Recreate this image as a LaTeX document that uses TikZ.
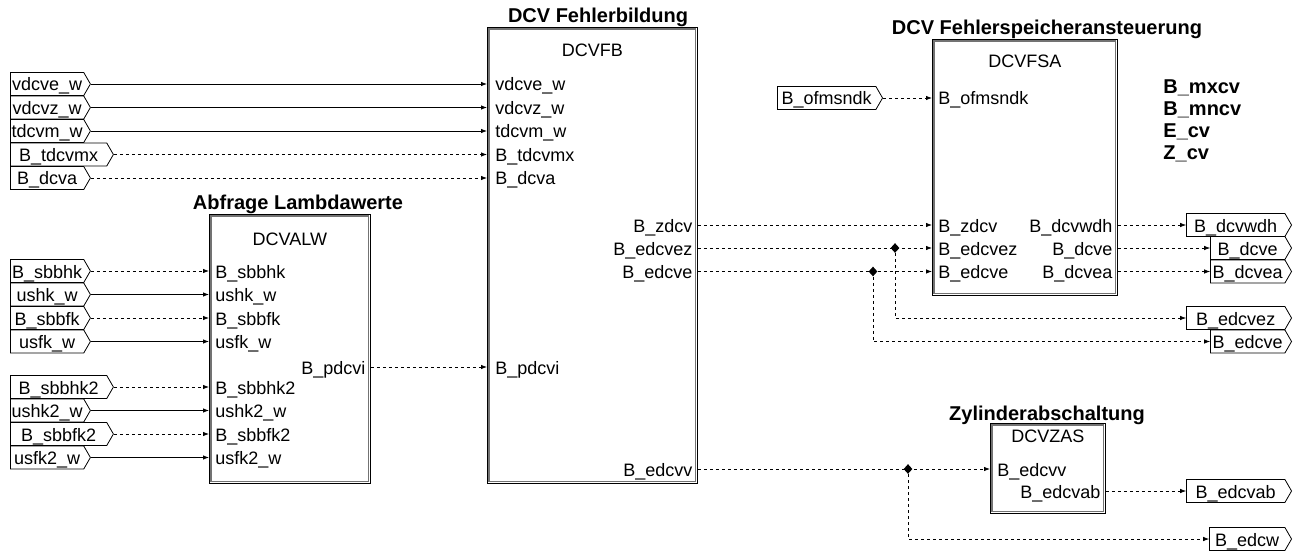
\documentclass[tikz,border=0pt]{standalone}
\usepackage{fontspec}
\setmainfont{Liberation Sans}
\usetikzlibrary{arrows.meta,calc,shapes.symbols,shapes.geometric}
\begin{document}
\begin{tikzpicture}[x=1pt, y=-1pt, >={Latex[length=6pt,width=4.5pt]}, line width=0.8pt, font=\fontsize{18}{20}\selectfont]
\tikzset{
  sig/.style={draw, signal, signal to=east, signal pointer angle=120, minimum height=23pt, inner sep=1pt, text height=15pt, text depth=1pt},
  lbl/.style={inner sep=1pt, text height=15pt, text depth=1pt},
  blk/.style={draw, inner sep=0pt, anchor=north west},
  inframe/.style={draw=black!55, line width=1.5pt},
  ttl/.style={font=\fontsize{20}{22}\selectfont\bfseries},
  dsh/.style={dash pattern=on 3pt off 3pt},
  junc/.style={diamond, fill, inner sep=0pt, minimum width=9pt, minimum height=10pt}
}
\useasboundingbox (0,0) rectangle (1300,556);
\node[blk, minimum width=210, minimum height=456] (fb) at (487,27) {};
\node[blk, minimum width=161, minimum height=269] (alw) at (209,214) {};
\node[blk, minimum width=185, minimum height=256] (fsa) at (932,39) {};
\node[blk, minimum width=115, minimum height=90] (zas) at (990,423) {};
\foreach \b in {fb,alw,fsa,zas} \draw[inframe] ($(\b.north west)+(2.2,2.2)$) rectangle ($(\b.south east)-(2.2,2.2)$);
\node[ttl, anchor=base] (tfb) at (598,23) {DCV Fehlerbildung};
\node[ttl, anchor=base] (talw) at (298,209) {Abfrage Lambdawerte};
\node[ttl, anchor=base] (tfsa) at (1047,35) {DCV Fehlerspeicheransteuerung};
\node[ttl, anchor=base] (tzas) at (1047,420) {Zylinderabschaltung};
\node[anchor=base] (nfb) at (fb.north |- 0,57) {DCVFB};
\node[anchor=base] (nalw) at (alw.north |- 0,245) {DCVALW};
\node[anchor=base] (nfsa) at (fsa.north |- 0,68) {DCVFSA};
\node[anchor=base] (nzas) at (zas.north |- 0,442) {DCVZAS};
\foreach \n/\t/\y/\w/\s in {ivdcve/vdcve\_w/84/80/solid, ivdcvz/vdcvz\_w/107.5/80/solid, itdcvm/tdcvm\_w/131/80/solid, itdcvmx/B\_tdcvmx/154.5/103/dsh, idcva/B\_dcva/178/80/dsh}{
  \node[sig, minimum width=\w, anchor=west] (\n) at (10,\y) {\t};
  \node[lbl, anchor=west] (\n-p) at ($(fb.west |- \n.east)+(7,0)$) {\t};
  \draw[\s, ->] (\n.east) -- (\n.east -| fb.west);
}
\foreach \n/\t/\y/\w/\s in {isbbhk/B\_sbbhk/271/80/dsh, iushk/ushk\_w/294.5/80/solid, isbbfk/B\_sbbfk/318/80/dsh, iusfk/usfk\_w/341.5/80/solid, isbbhkz/B\_sbbhk2/387/103/dsh, iushkz/ushk2\_w/410.5/80/solid, isbbfkz/B\_sbbfk2/434/103/dsh, iusfkz/usfk2\_w/457.5/80/solid}{
  \node[sig, minimum width=\w, anchor=west] (\n) at (10,\y) {\t};
  \node[lbl, anchor=west] (\n-p) at ($(alw.west |- \n.east)+(5,0)$) {\t};
  \draw[\s, ->] (\n.east) -- (\n.east -| alw.west);
}
\node[lbl, anchor=east] (pdcvi-o) at ($(alw.east |- 0,367)+(-4,0)$) {B\_pdcvi};
\node[lbl, anchor=west] (pdcvi-i) at ($(fb.west |- pdcvi-o)+(7,0)$) {B\_pdcvi};
\draw[dsh, ->] (pdcvi-o -| alw.east) -- (pdcvi-o -| fb.west);
\foreach \n/\t/\y in {zdcv/B\_zdcv/225, edcvez/B\_edcvez/248, edcve/B\_edcve/271.5, edcvv/B\_edcvv/469}
  \node[lbl, anchor=east] (\n-o) at ($(fb.east |- 0,\y)+(-4,0)$) {\t};
\foreach \n/\t/\y in {ofmsndk/B\_ofmsndk/98, zdcv/B\_zdcv/225, edcvez/B\_edcvez/248, edcve/B\_edcve/271.5}
  \node[lbl, anchor=west] (\n-i) at ($(fsa.west |- 0,\y)+(5,0)$) {\t};
\node[sig, minimum width=105, anchor=east] (iofmsndk) at (883,98) {B\_ofmsndk};
\draw[dsh, ->] (iofmsndk.east) -- (ofmsndk-i -| fsa.west);
\foreach \n/\t/\y/\w in {dcvwdh/B\_dcvwdh/225/105, dcve/B\_dcve/248/81, dcvea/B\_dcvea/271.5/81}{
  \node[lbl, anchor=east] (\n-o) at ($(fsa.east |- 0,\y)+(-4,0)$) {\t};
  \node[sig, minimum width=\w, anchor=east] (o-\n) at (1292,\y) {\t};
  \draw[dsh, ->] (\n-o -| fsa.east) -- (o-\n.west);
}
\foreach \t [count=\k from 0] in {B\_mxcv,B\_mncv,E\_cv,Z\_cv}
  \node[ttl, anchor=base west, inner sep=0pt] (v\k) at (1163,{94+22*\k}) {\t};
\node[sig, minimum width=105, anchor=east] (o-edcvez) at (1292,318) {B\_edcvez};
\node[sig, minimum width=81, anchor=east] (o-edcve) at (1292,341.5) {B\_edcve};
\node[lbl, anchor=west] (edcvv-i) at ($(zas.west |- 0,469)+(6,0)$) {B\_edcvv};
\node[lbl, anchor=east] (edcvab-o) at ($(zas.east |- 0,491)+(-4,0)$) {B\_edcvab};
\node[sig, minimum width=105, anchor=east] (o-edcvab) at (1292,491) {B\_edcvab};
\node[sig, minimum width=82, anchor=east] (o-edcw) at (1292,539) {B\_edcw};
\node[junc] (jez) at (895,248) {};
\node[junc] (jev) at (873,271.5) {};
\node[junc] (jvv) at (908,469) {};
\draw[dsh, ->] (zdcv-o -| fb.east) -- (zdcv-i -| fsa.west);
\draw[dsh, ->] (edcvez-o -| fb.east) -- (edcvez-i -| fsa.west);
\draw[dsh, ->] (edcve-o -| fb.east) -- (edcve-i -| fsa.west);
\draw[dsh, ->] (jez) |- (o-edcvez.west);
\draw[dsh, ->] (jev) |- (o-edcve.west);
\draw[dsh, ->] (edcvv-o -| fb.east) -- (edcvv-i -| zas.west);
\draw[dsh, ->] (jvv) |- (o-edcw.west);
\draw[dsh, ->] (edcvab-o -| zas.east) -- (o-edcvab.west);
\end{tikzpicture}
\end{document}
